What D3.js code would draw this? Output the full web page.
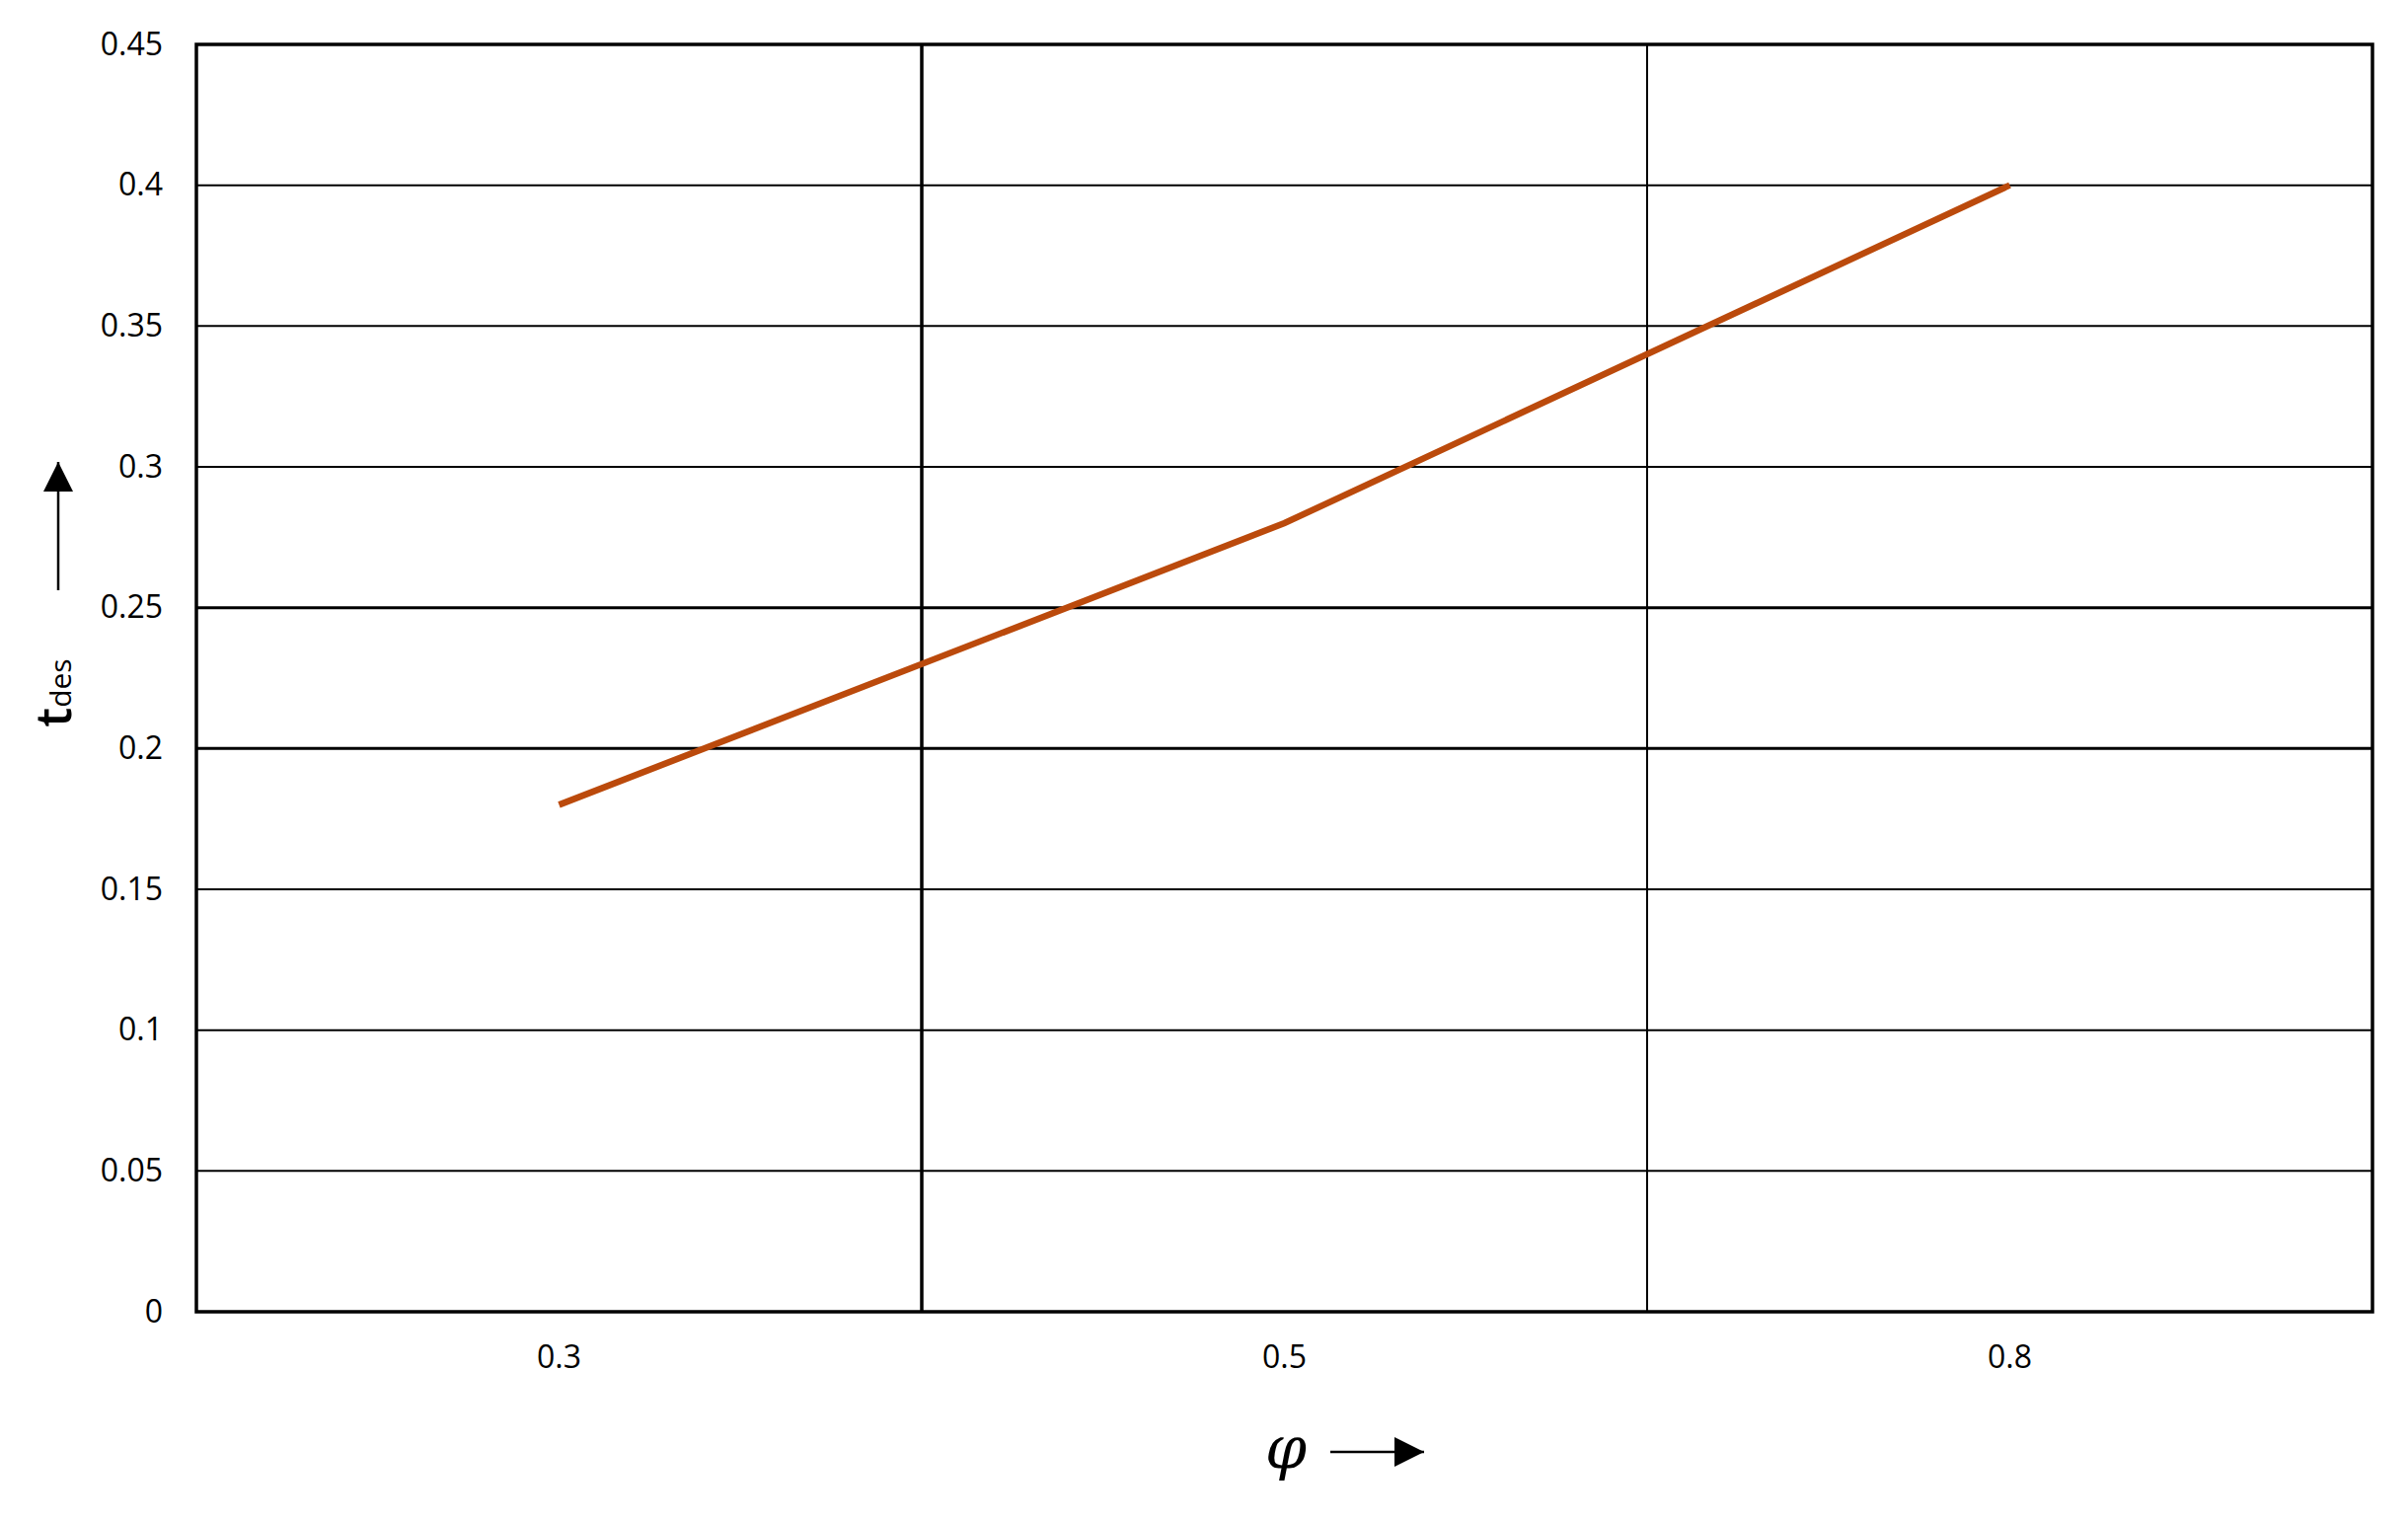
<!DOCTYPE html>
<html>
<head>
<meta charset="utf-8">
<script src="https://cdn.jsdelivr.net/npm/d3@7"></script>
<style>
    html, body { margin: 0; padding: 0; background: #fff; }
    svg { display: block; }
    .tick text { font-family: 'Open Sans', 'Liberation Sans', sans-serif; fill: #000; }
</style>
</head>
<body>
<div id="chart"></div>
<script>
'use strict';

// phi categories along the x axis
var phiLabels = ['0.3', '0.5', '0.8'];
// t_des
var tdesValues = [0.18, 0.28, 0.40];
// y ticks
var yTicks = [0, 0.05, 0.1, 0.15, 0.2, 0.25, 0.3, 0.35, 0.4, 0.45];

var width  = 2440,
    height = 1542,
    margin = {top: 45, right: 36, bottom: 213, left: 199},
    innerW = width - margin.left - margin.right,
    innerH = height - margin.top - margin.bottom;

var svg = d3.select('#chart').append('svg')
    .attr('width', width)
    .attr('height', height);

var g = svg.append('g')
    .attr('transform', 'translate(' + margin.left + ',' + margin.top + ')');

var x = d3.scaleBand()
    .domain(phiLabels)
    .range([0, innerW])
    .padding(0);

var y = d3.scaleLinear()
    .domain([0, 0.45])
    .range([innerH, 0]);

// horizontal grid lines
g.append('g')
    .selectAll('line')
    .data(yTicks)
    .enter().append('line')
    .attr('x1', 0)
    .attr('x2', innerW)
    .attr('y1', function (d) { return y(d); })
    .attr('y2', function (d) { return y(d); })
    .attr('stroke', '#000')
    .attr('stroke-width', function (d) { return (d === 0.2 || d === 0.25) ? 3 : 2; });

// vertical grid lines between the categories
g.append('g')
    .selectAll('line')
    .data(phiLabels.slice(1))
    .enter().append('line')
    .attr('x1', function (d) { return x(d); })
    .attr('x2', function (d) { return x(d); })
    .attr('y1', 0)
    .attr('y2', innerH)
    .attr('stroke', '#000')
    .attr('stroke-width', function (d, i) { return i === 0 ? 3.5 : 2; });

// frame
g.append('rect')
    .attr('x', 0)
    .attr('y', 0)
    .attr('width', innerW)
    .attr('height', innerH)
    .attr('fill', 'none')
    .attr('stroke', '#000')
    .attr('stroke-width', 3.5);

// y axis labels
var yAxis = g.append('g')
    .call(d3.axisLeft(y)
        .tickValues(yTicks)
        .tickSize(0)
        .tickPadding(34)
        .tickFormat(function (d) { return String(+d.toFixed(2)); }));
yAxis.select('.domain').remove();
yAxis.selectAll('text').style('font-size', '32px');

// x axis labels
var xAxis = g.append('g')
    .attr('transform', 'translate(0,' + innerH + ')')
    .call(d3.axisBottom(x).tickSize(0).tickPadding(34));
xAxis.select('.domain').remove();
xAxis.selectAll('text').style('font-size', '32px');

// data line
var line = d3.line()
    .x(function (d, i) { return x(phiLabels[i]) + x.bandwidth() / 2; })
    .y(function (d) { return y(d); });

g.append('path')
    .datum(tdesValues)
    .attr('d', line)
    .attr('fill', 'none')
    .attr('stroke', '#bb4a0c')
    .attr('stroke-width', 6.5);

// arrow marker
var defs = svg.append('defs');
defs.append('marker')
    .attr('id', 'arrow')
    .attr('viewBox', '0 0 10 10')
    .attr('refX', 10)
    .attr('refY', 5)
    .attr('markerUnits', 'userSpaceOnUse')
    .attr('markerWidth', 30)
    .attr('markerHeight', 30)
    .attr('orient', 'auto')
    .append('path')
    .attr('d', 'M0,0 L10,5 L0,10 Z')
    .attr('fill', '#000');

// y axis title: t_des with an upward arrow
var yTitle = svg.append('text')
    .attr('transform', 'translate(72,702) rotate(-90)')
    .attr('text-anchor', 'middle')
    .style('font-family', "'Open Sans', 'Liberation Sans', sans-serif")
    .style('fill', '#000');
yTitle.append('tspan').text('t').style('font-size', '50px').style('font-weight', 600);
yTitle.append('tspan').text('des').style('font-size', '30px').attr('dy', 0);

svg.append('line')
    .attr('x1', 59).attr('x2', 59)
    .attr('y1', 598).attr('y2', 468)
    .attr('stroke', '#000')
    .attr('stroke-width', 2.5)
    .attr('marker-end', 'url(#arrow)');

// x axis title: phi with a right arrow
svg.append('text')
    .attr('x', 1303)
    .attr('y', 1488)
    .attr('text-anchor', 'middle')
    .style('font-family', "'DejaVu Serif', 'Liberation Serif', serif")
    .style('font-style', 'italic')
    .style('font-size', '60px')
    .style('fill', '#000')
    .text('φ');

svg.append('line')
    .attr('x1', 1348).attr('x2', 1443)
    .attr('y1', 1471).attr('y2', 1471)
    .attr('stroke', '#000')
    .attr('stroke-width', 2.5)
    .attr('marker-end', 'url(#arrow)');
</script>
</body>
</html>
